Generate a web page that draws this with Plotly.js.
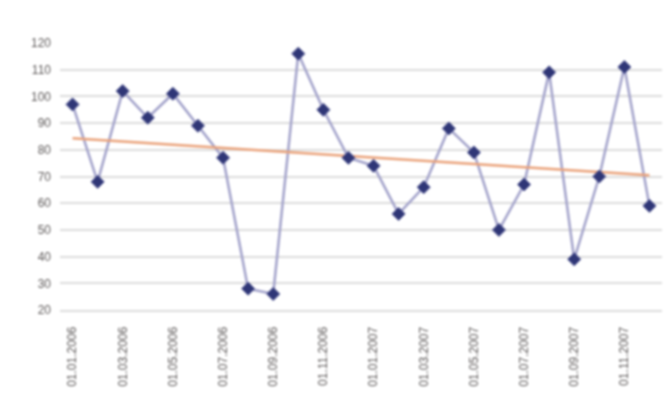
<!DOCTYPE html>
<html>
<head>
<meta charset="utf-8">
<script src="https://cdn.plot.ly/plotly-3.0.1.min.js"></script>
<style>
  html, body { margin: 0; padding: 0; background: #ffffff; }
  #chart { width: 668px; height: 409px; filter: blur(0.9px); }
</style>
</head>
<body>
<div id="chart"></div>
<script>
// Categories (one per point) and the tick labels shown (every other one)
const categories = [
  "01.01.2006","01.02.2006","01.03.2006","01.04.2006","01.05.2006","01.06.2006",
  "01.07.2006","01.08.2006","01.09.2006","01.10.2006","01.11.2006","01.12.2006",
  "01.01.2007","01.02.2007","01.03.2007","01.04.2007","01.05.2007","01.06.2007",
  "01.07.2007","01.08.2007","01.09.2007","01.10.2007","01.11.2007","01.12.2007"
];
const shownLabels = [
  "01.01.2006","01.03.2006","01.05.2006","01.07.2006","01.09.2006","01.11.2006",
  "01.01.2007","01.03.2007","01.05.2007","01.07.2007","01.09.2007","01.11.2007"
];
// Series values
const values = [97, 68, 102, 92, 101, 89, 77, 28, 26, 116, 95, 77,
                74, 56, 66, 88, 79, 50, 67, 109, 39, 70, 111, 59];
// Trend line end points (first and last category)
const trendCats = ["01.01.2006", "01.12.2007"];
const trendValues = [84.3, 70.5];
const yTicks = [20, 30, 40, 50, 60, 70, 80, 90, 100, 110, 120];

const data = [
  {
    x: categories, y: values, type: "scatter", mode: "lines",
    line: { color: "#a2a2ca", width: 2.5 }, hoverinfo: "skip", showlegend: false
  },
  {
    x: trendCats, y: trendValues, type: "scatter", mode: "lines",
    line: { color: "#eaa27a", width: 2.5 }, showlegend: false
  },
  {
    x: categories, y: values, type: "scatter", mode: "markers",
    marker: { symbol: "diamond", size: 10, color: "#2f3676",
              line: { color: "#4a4f8e", width: 1 } },
    showlegend: false
  }
];

const layout = {
  width: 668, height: 409,
  margin: { l: 60, r: 6, t: 43, b: 99 },
  paper_bgcolor: "#ffffff", plot_bgcolor: "#ffffff",
  font: { family: "Arial, Liberation Sans, sans-serif", color: "#5e5a5a", size: 12 },
  xaxis: {
    type: "category", range: [-0.5, 23.5],
    tickmode: "array", tickvals: shownLabels, ticktext: shownLabels,
    tickangle: -90, tickfont: { size: 12, color: "#5e5a5a" },
    showgrid: false, zeroline: false,
    showline: true, linecolor: "#dcdcdc", linewidth: 2,
    ticks: "", ticklabelstandoff: 10
  },
  yaxis: {
    range: [20, 120], tickmode: "array", tickvals: yTicks,
    showgrid: true, gridcolor: "#dcdcdc", gridwidth: 2,
    zeroline: false, showline: false, ticks: "",
    tickfont: { size: 12, color: "#5e5a5a" }, ticklabelstandoff: 8
  }
};

Plotly.newPlot("chart", data, layout, { displayModeBar: false, staticPlot: true });
</script>
</body>
</html>
